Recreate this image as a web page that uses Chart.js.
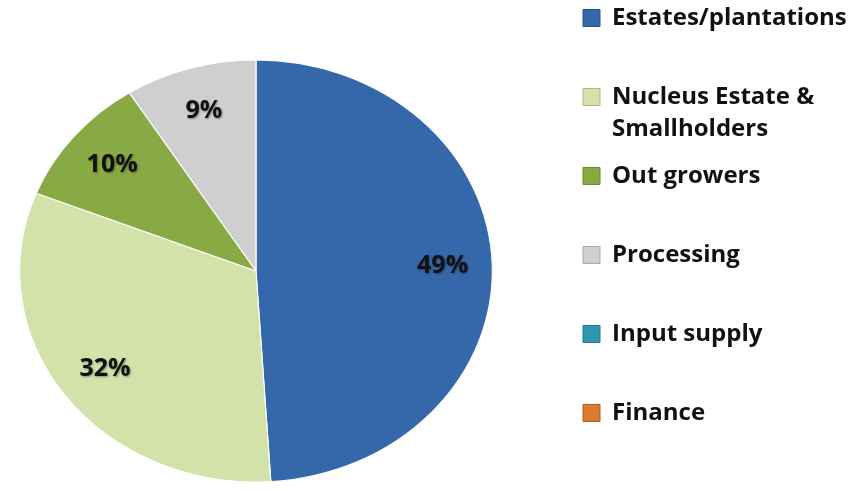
<!DOCTYPE html>
<html>
<head>
<meta charset="utf-8">
<script src="https://cdn.jsdelivr.net/npm/chart.js@4.4.1/dist/chart.umd.min.js"></script>
<style>
  html, body { margin: 0; padding: 0; background: #fff; }
  #wrap { position: relative; width: 866px; height: 491px; overflow: hidden; }
  /* canvas a bit bigger than the page so the pie sits where it does in the picture */
  #myChart { position: absolute; left: -56px; top: -9px; }
</style>
</head>
<body>
<div id="wrap"><canvas id="myChart" width="922" height="560"></canvas></div>
<script>
// values
var categories = ["Estates/plantations", "Nucleus Estate &\nSmallholders", "Out growers", "Processing", "Input supply", "Finance"];
var shares = [49, 32, 10, 9, 0, 0];
var sliceColors = ["#3468ab", "#d3e2a8", "#88a943", "#cfcfcf", "#2f96b0", "#db7b2b"];
var edgeColors = ["#2a5390", "#a9b98a", "#6b8a30", "#a8a8a8", "#23768c", "#b05f1e"];

var stretchX = 1.12; // the pie in the picture is a bit wider than tall

// stretch the pie into an ellipse and write the % labels on it
var ellipsePie = {
  id: 'ellipsePie',
  beforeDatasetsDraw: function(chart) {
    var arc = chart.getDatasetMeta(0).data[0];
    var ctx = chart.ctx;
    ctx.save();
    ctx.translate(arc.x, arc.y);
    ctx.scale(stretchX, 1);
    ctx.translate(-arc.x, -arc.y);
  },
  afterDatasetsDraw: function(chart) {
    var ctx = chart.ctx;
    ctx.restore();
    ctx.save();
    ctx.font = 'bold 25px "Open Sans"';
    ctx.textAlign = 'center';
    ctx.textBaseline = 'middle';
    ctx.fillStyle = '#111';
    ctx.shadowColor = 'rgba(0,0,0,0.35)';
    ctx.shadowBlur = 2;
    ctx.shadowOffsetX = 1;
    ctx.shadowOffsetY = 1;
    chart.getDatasetMeta(0).data.forEach(function(arc, i) {
      if (!shares[i]) return;
      var mid = (arc.startAngle + arc.endAngle) / 2;
      var r = arc.outerRadius * 0.79;
      var x = arc.x + Math.cos(mid) * r * stretchX;
      var y = arc.y + Math.sin(mid) * r;
      ctx.fillText(shares[i] + '%', x, y);
    });
    ctx.restore();
  }
};

var ctx = document.getElementById('myChart');
var myChart = new Chart(ctx, {
  type: 'pie',
  data: {
    labels: categories,
    datasets: [{
      data: shares,
      backgroundColor: sliceColors,
      borderColor: '#ffffff',
      borderWidth: 1,
      radius: 211
    }]
  },
  options: {
    responsive: false,
    animation: false,
    layout: {
      padding: { left: 0, right: 18, top: 0, bottom: 0 }
    },
    plugins: {
      tooltip: { enabled: false },
      legend: {
        position: 'right',
        align: 'start',
        maxWidth: 280,
        labels: {
          boxWidth: 17,
          boxHeight: 17,
          padding: 15,
          color: '#111',
          font: { family: 'Open Sans', size: 24, weight: 'bold', lineHeight: 1.333 },
          generateLabels: function(chart) {
            return categories.map(function(c, i) {
              var lines = c.split('\n');
              if (lines.length < 2) lines.push('');
              return {
                text: lines,
                fillStyle: sliceColors[i],
                strokeStyle: edgeColors[i],
                lineWidth: 1,
                fontColor: '#111',
                hidden: false,
                index: i
              };
            });
          }
        }
      }
    }
  },
  plugins: [ellipsePie]
});
</script>
</body>
</html>
